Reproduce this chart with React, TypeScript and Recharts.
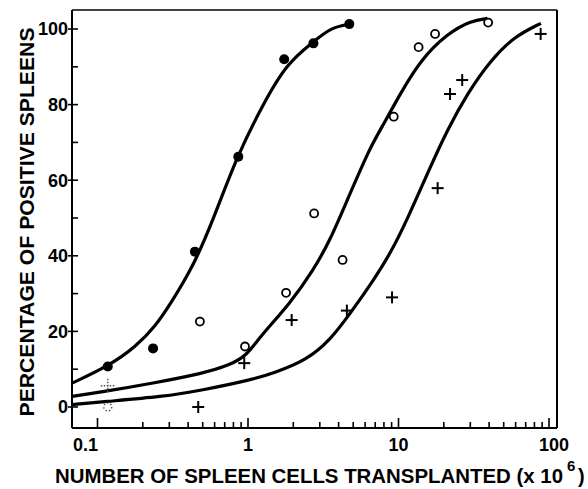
import React from 'react';
import { ComposedChart, Line, Scatter, XAxis, YAxis, ReferenceLine } from 'recharts';

// ---- tick values / labels ----
const xTicks = [0.1, 0.2, 0.3, 0.4, 0.5, 0.6, 0.7, 0.8, 0.9, 1, 2, 3, 4, 5, 6, 7, 8, 9, 10, 20, 30, 40, 50, 60, 70, 80, 90, 100];
const xMajorLabels: Record<string, string> = { '0.1': '0.1', '1': '1', '10': '10', '100': '100' };
const yTicks = [0, 10, 20, 30, 40, 50, 60, 70, 80, 90, 100];
const yLabelled = [0, 20, 40, 60, 80, 100];
const xDomain = [0.0677, 113];
const yDomain = [-5.56, 105.03];

// ---- observed points ----
const filledPoints = [
  { x: 0.117, y: 10.7 }, { x: 0.234, y: 15.5 }, { x: 0.444, y: 41.1 }, { x: 0.862, y: 66.2 },
  { x: 1.74, y: 92 }, { x: 2.72, y: 96.2 }, { x: 4.71, y: 101.3 },
];
const openPoints = [
  { x: 0.479, y: 22.6 }, { x: 0.955, y: 16 }, { x: 1.79, y: 30.2 }, { x: 2.75, y: 51.2 },
  { x: 4.25, y: 38.9 }, { x: 9.3, y: 76.8 }, { x: 13.6, y: 95.2 }, { x: 17.5, y: 98.7 }, { x: 39.4, y: 101.7 },
];
const plusPoints = [
  { x: 0.467, y: 0 }, { x: 0.944, y: 11.6 }, { x: 1.95, y: 23 }, { x: 4.54, y: 25.5 },
  { x: 9.06, y: 29 }, { x: 18.2, y: 57.9 }, { x: 22, y: 82.8 }, { x: 26.5, y: 86.5 }, { x: 88, y: 98.7 },
];
const faintOpenPoints = [{ x: 0.117, y: 0 }];
const faintPlusPoints = [{ x: 0.117, y: 5.6 }];

// ---- fitted curves ----
const curveFilled = [
  { x: 0.0677, y: 6.3 }, { x: 0.117, y: 10.7 }, { x: 0.181, y: 16 }, { x: 0.246, y: 21.7 },
  { x: 0.302, y: 27 }, { x: 0.432, y: 37.1 }, { x: 0.587, y: 49.5 }, { x: 0.841, y: 66.2 },
  { x: 1.265, y: 80.3 }, { x: 1.81, y: 90.9 }, { x: 2.72, y: 96.6 }, { x: 3.52, y: 100.3 }, { x: 4.71, y: 101.3 },
];
const curveOpen = [
  { x: 0.0677, y: 2.8 }, { x: 0.108, y: 4 }, { x: 0.234, y: 6.3 }, { x: 0.504, y: 8.9 },
  { x: 0.759, y: 11.1 }, { x: 0.98, y: 13.6 }, { x: 1.2, y: 18.6 }, { x: 1.905, y: 27.4 },
  { x: 2.72, y: 36.2 }, { x: 3.52, y: 44.2 }, { x: 4.57, y: 54.8 }, { x: 6.5, y: 68.8 },
  { x: 7.59, y: 73.3 }, { x: 10.3, y: 83 }, { x: 14, y: 91.8 }, { x: 21.1, y: 98.8 },
  { x: 30.2, y: 102.2 }, { x: 39, y: 102.8 },
];
const curvePlus = [
  { x: 0.0677, y: 0.6 }, { x: 0.108, y: 1.4 }, { x: 0.272, y: 2.7 }, { x: 0.504, y: 4.5 },
  { x: 1.03, y: 7.1 }, { x: 1.475, y: 8.9 }, { x: 2.46, y: 12.4 }, { x: 3.52, y: 17.7 },
  { x: 4.79, y: 24.8 }, { x: 6.84, y: 33.6 }, { x: 8.85, y: 40.7 }, { x: 11.4, y: 49.5 },
  { x: 16.3, y: 63.6 }, { x: 21.1, y: 73.3 }, { x: 28.7, y: 83 }, { x: 41, y: 91.8 },
  { x: 58.7, y: 98 }, { x: 88.4, y: 101.5 },
];

const FONT = '"Liberation Sans", Arial, sans-serif';

const XTick = (props: any) => {
  const { x, y, payload } = props;
  const v = payload.value;
  const label = xMajorLabels[String(v)];
  const major = label !== undefined;
  return (
    <g>
      <line x1={x} y1={y} x2={x} y2={y - (major ? 10 : 6)} stroke="#000" strokeWidth={1.6} />
      {major && (
        <text x={v === 0.1 ? x - 12 : v === 100 ? x + 5 : x} y={y + 23} textAnchor="middle" fontFamily={FONT}
          fontWeight="bold" fontSize={18} fill="#000">{label}</text>
      )}
    </g>
  );
};

const YTick = (props: any) => {
  const { x, y, payload } = props;
  const v = payload.value;
  const major = yLabelled.includes(v);
  return (
    <g>
      <line x1={major ? x - 4 : x} y1={y} x2={x + 6} y2={y} stroke="#000" strokeWidth={1.6} />
      {major && (
        <text x={x - 4} y={y} dy="0.36em" textAnchor="end" fontFamily={FONT} fontWeight="bold"
          fontSize={18} fill="#000">{String(v)}</text>
      )}
    </g>
  );
};

const XLabel = () => (
  <g fontFamily={FONT} fontWeight="bold" fill="#000">
    <text x={55} y={483} textLength={508} lengthAdjust="spacingAndGlyphs" fontSize={20}>
      NUMBER OF SPLEEN CELLS TRANSPLANTED (x 10
    </text>
    <text x={567} y={471} fontSize={15}>6</text>
    <text x={578} y={483} fontSize={20}>)</text>
  </g>
);

const YLabel = () => (
  <text x={0} y={0} transform="translate(34,222) rotate(-90)" textAnchor="middle" textLength={389}
    lengthAdjust="spacingAndGlyphs" fontFamily={FONT} fontWeight="bold" fontSize={21} fill="#000">
    PERCENTAGE OF POSITIVE SPLEENS
  </text>
);

const FilledDot = (p: any) => <circle cx={p.cx} cy={p.cy} r={5} fill="#000" />;
const OpenDot = (p: any) => <circle cx={p.cx} cy={p.cy} r={4} fill="#fff" stroke="#000" strokeWidth={1.8} />;
const PlusMark = (p: any) => (
  <g stroke="#000" strokeWidth={2}>
    <line x1={p.cx - 6} y1={p.cy} x2={p.cx + 6} y2={p.cy} />
    <line x1={p.cx} y1={p.cy - 6} x2={p.cx} y2={p.cy + 6} />
  </g>
);
const FaintOpen = (p: any) => (
  <circle cx={p.cx} cy={p.cy} r={4} fill="none" stroke="#555" strokeWidth={1.4} strokeDasharray="1.5 2" />
);
const FaintPlus = (p: any) => (
  <g stroke="#555" strokeWidth={1.4} strokeDasharray="1.5 1.5">
    <line x1={p.cx - 7} y1={p.cy} x2={p.cx + 7} y2={p.cy} />
    <line x1={p.cx} y1={p.cy - 7} x2={p.cx} y2={p.cy + 7} />
  </g>
);

export default function App() {
  return (
    <div style={{ position: 'absolute', left: 0, top: 0, background: '#fff' }}>
      <ComposedChart width={588} height={489} margin={{ top: 10, right: 31, left: 0, bottom: 0 }}>
        <XAxis dataKey="x" type="number" scale="log" domain={xDomain} allowDataOverflow ticks={xTicks}
          interval={0} tick={<XTick />} tickLine={false} tickSize={0} tickMargin={0} height={61}
          axisLine={{ stroke: '#000', strokeWidth: 2 }} label={<XLabel />} />
        <YAxis dataKey="y" type="number" domain={yDomain} allowDataOverflow ticks={yTicks} interval={0}
          tick={<YTick />} tickLine={false} tickSize={0} tickMargin={0} width={72}
          axisLine={{ stroke: '#000', strokeWidth: 2 }} label={<YLabel />} />
        <ReferenceLine y={yDomain[1]} stroke="#000" strokeWidth={1.6} />
        <ReferenceLine x={xDomain[1]} stroke="#000" strokeWidth={2} />
        <Line data={curveFilled} dataKey="y" type="basis" stroke="#000" strokeWidth={3.2} dot={false} isAnimationActive={false} />
        <Line data={curveOpen} dataKey="y" type="basis" stroke="#000" strokeWidth={3.2} dot={false} isAnimationActive={false} />
        <Line data={curvePlus} dataKey="y" type="basis" stroke="#000" strokeWidth={3.2} dot={false} isAnimationActive={false} />
        <Scatter data={filledPoints} dataKey="y" shape={<FilledDot />} isAnimationActive={false} />
        <Scatter data={openPoints} dataKey="y" shape={<OpenDot />} isAnimationActive={false} />
        <Scatter data={plusPoints} dataKey="y" shape={<PlusMark />} isAnimationActive={false} />
        <Scatter data={faintOpenPoints} dataKey="y" shape={<FaintOpen />} isAnimationActive={false} />
        <Scatter data={faintPlusPoints} dataKey="y" shape={<FaintPlus />} isAnimationActive={false} />
      </ComposedChart>
    </div>
  );
}
